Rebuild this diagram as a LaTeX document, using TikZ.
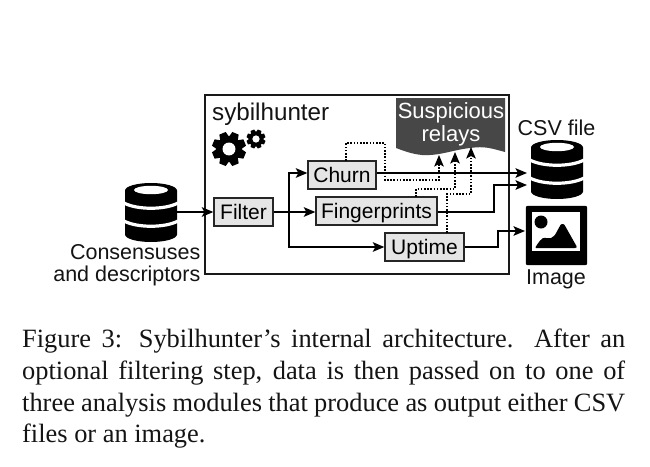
\documentclass[tikz,border=0pt]{standalone}
\usepackage{fontspec}
\setmainfont{Liberation Sans}
\newfontfamily\capfont{Liberation Serif}
\usetikzlibrary{arrows.meta}
\tikzset{
  lab/.style={font=\fontsize{21.5}{22}\selectfont,inner sep=0pt,text=black!92},
  mod/.style={draw=black!85,line width=1.3pt,fill=black!10,inner sep=0pt,minimum height=28pt,text height=15.5pt,text depth=0.5pt,font=\fontsize{21}{24}\selectfont},
  conn/.style={line width=1.9pt,-{Stealth[length=11.5pt,width=9.5pt,inset=2.5pt]}},
  dots/.style={line width=1.6pt,dash pattern=on 1.6pt off 1.6pt},
  dotarrow/.style={line width=1.6pt,dash pattern=on 1.6pt off 1.6pt,-{Stealth[length=11.5pt,width=9.5pt,inset=2.5pt,sep=0pt]}},
  hole/.style={inner sep=0pt,minimum width=52pt,minimum height=59pt}
}
\newcommand{\dbicon}[2]{%
  \fill[black] (#1-26,#2-22) arc[start angle=180,end angle=0,x radius=26pt,y radius=7.5pt]
     -- (#1+26,#2+22) arc[start angle=0,end angle=-180,x radius=26pt,y radius=7.5pt] -- cycle;
  \fill[white] (#1,#2-22.5) ellipse[x radius=17pt,y radius=4.2pt];
  \draw[white,line width=3.2pt] (#1-27,#2-9.5) .. controls (#1-14,#2-2.5) and (#1+14,#2-2.5) .. (#1+27,#2-9.5);
  \draw[white,line width=3.2pt] (#1-27,#2+8.5) .. controls (#1-14,#2+15.5) and (#1+14,#2+15.5) .. (#1+27,#2+8.5);
}
\newcommand{\gearicon}[4]{%
  \foreach \a in {0,45,...,315}{
    \fill[black,rotate around={\a+22.5:(#1,#2)}] (#1-#4*0.2,#2-#3) -- (#1+#4*0.2,#2-#3) -- (#1+#4*0.3,#2-#3+#4*0.4) -- (#1-#4*0.3,#2-#3+#4*0.4) -- cycle;
  }
  \fill[black] (#1,#2) circle[radius=#3*0.76pt];
  \fill[white] (#1,#2) circle[radius=#3*0.38pt];
}
\begin{document}
\begin{tikzpicture}[x=1pt,y=-1pt]
\useasboundingbox (0,0) rectangle (650,466);
\fill[white] (0,0) rectangle (650,466);
% main box
\node[draw=black!90,line width=1.4pt,inner sep=0pt,minimum width=304pt,minimum height=179pt] (main) at (357,184.5) {};
\node[anchor=base west,inner sep=0pt,font=\fontsize{24.2}{28}\selectfont,text=black!92] (title) at (212,120) {sybilhunter};
\gearicon{229}{149}{17}{17}
\gearicon{256}{139}{9.5}{9.5}
% suspicious
\fill[black!72] (396,98) -- (505,98) -- (505,152) .. controls (490,148) and (485,146) .. (470,148) .. controls (452,150) and (440,156) .. (422,155) .. controls (412,154) and (404,151) .. (396,148) -- cycle;
\node[inner sep=0pt,font=\fontsize{22}{23}\selectfont,text=white,align=center] (susp) at (451,124) {Suspicious\\relays};
% modules
\node[mod,minimum width=59pt] (filter) at (243.5,212) {Filter};
\node[mod,minimum width=68pt] (churn) at (342,175) {Churn};
\node[mod,minimum width=121pt] (fp) at (376.5,211) {Fingerprints};
\node[mod,minimum width=79pt] (uptime) at (424.5,247) {Uptime};
% icons
\node[hole] (dbl) at (151,212) {};
\dbicon{151}{212.5}
\node[hole] (dbr) at (557,169.5) {};
\dbicon{557}{169.5}
\node[inner sep=0pt,minimum width=61pt,minimum height=59pt] (img) at (556.5,235.5) {};
\fill[black,rounded corners=2pt] (img.north west) rectangle (img.south east);
\fill[white] (532,212) rectangle (580,251);
\fill[black] (541,222) circle[radius=6.5pt];
\fill[black,rounded corners=1pt] (535,248) .. controls (538,243) and (542,237) .. (546,238) .. controls (550,239) and (552,238) .. (555,235) -- (561,224) -- (564,224) -- (577,247) -- (576,248) -- cycle;
% labels
\node[lab,anchor=east,align=right] (cons) at (200.5,265) {Consensuses\\and descriptors};
\node[lab] (csvlab) at (556.5,128) {CSV file};
\node[lab] (imglab) at (556,279) {Image};
% connection coordinates
\coordinate (csva) at (527,173);
\coordinate (csvb) at (527,185);
\coordinate (imga) at (525,231);
\coordinate (dota) at (439,155);
\coordinate (dotb) at (455,152);
\coordinate (dotc) at (471,147);
\coordinate (branch) at (289,212);
\coordinate (churntop) at (346,161);
\coordinate (fptop) at (416,197);
\coordinate (uptop) at (447,233);
% connectors
\draw[conn] (dbl.east) -- (filter.west);
\draw[conn] (filter.east) -- (fp.west |- filter.east);
\draw[conn] (branch) -- (289,173) -- (churn.west |- 0,173);
\draw[conn] (branch) -- (289,247) -- (uptime.west);
\draw[conn] (churn.east |- csva) -- (csva);
\draw[conn] (fp.east |- 0,212) -- (494,212) -- (494,185) -- (csvb);
\draw[conn] (uptime.east) -- (498,247) -- (498,231) -- (imga);
\draw[dots] (churntop) -- (346,143) -- (385,143) -- (385,180) -- (439,180) -- (439,170);
\draw[dotarrow] (439,172) -- (dota);
\draw[dots] (fptop) -- (416,189) -- (455,189) -- (455,170);
\draw[dotarrow] (455,172) -- (dotb);
\draw[dots] (uptop) -- (447,194) -- (471,194) -- (471,170);
\draw[dotarrow] (471,172) -- (dotc);
% caption
\node[anchor=north west,inner sep=0pt,text width=603pt,align=justify,font=\capfont\fontsize{26.4}{31.7}\selectfont,text=black!92] (caption) at (22,329) {Figure 3: Sybilhunter’s internal architecture. After an\linebreak optional filtering step, data is then passed on to one of\linebreak three analysis modules that produce as output either CSV\linebreak files or an image.};
\end{tikzpicture}
\end{document}
